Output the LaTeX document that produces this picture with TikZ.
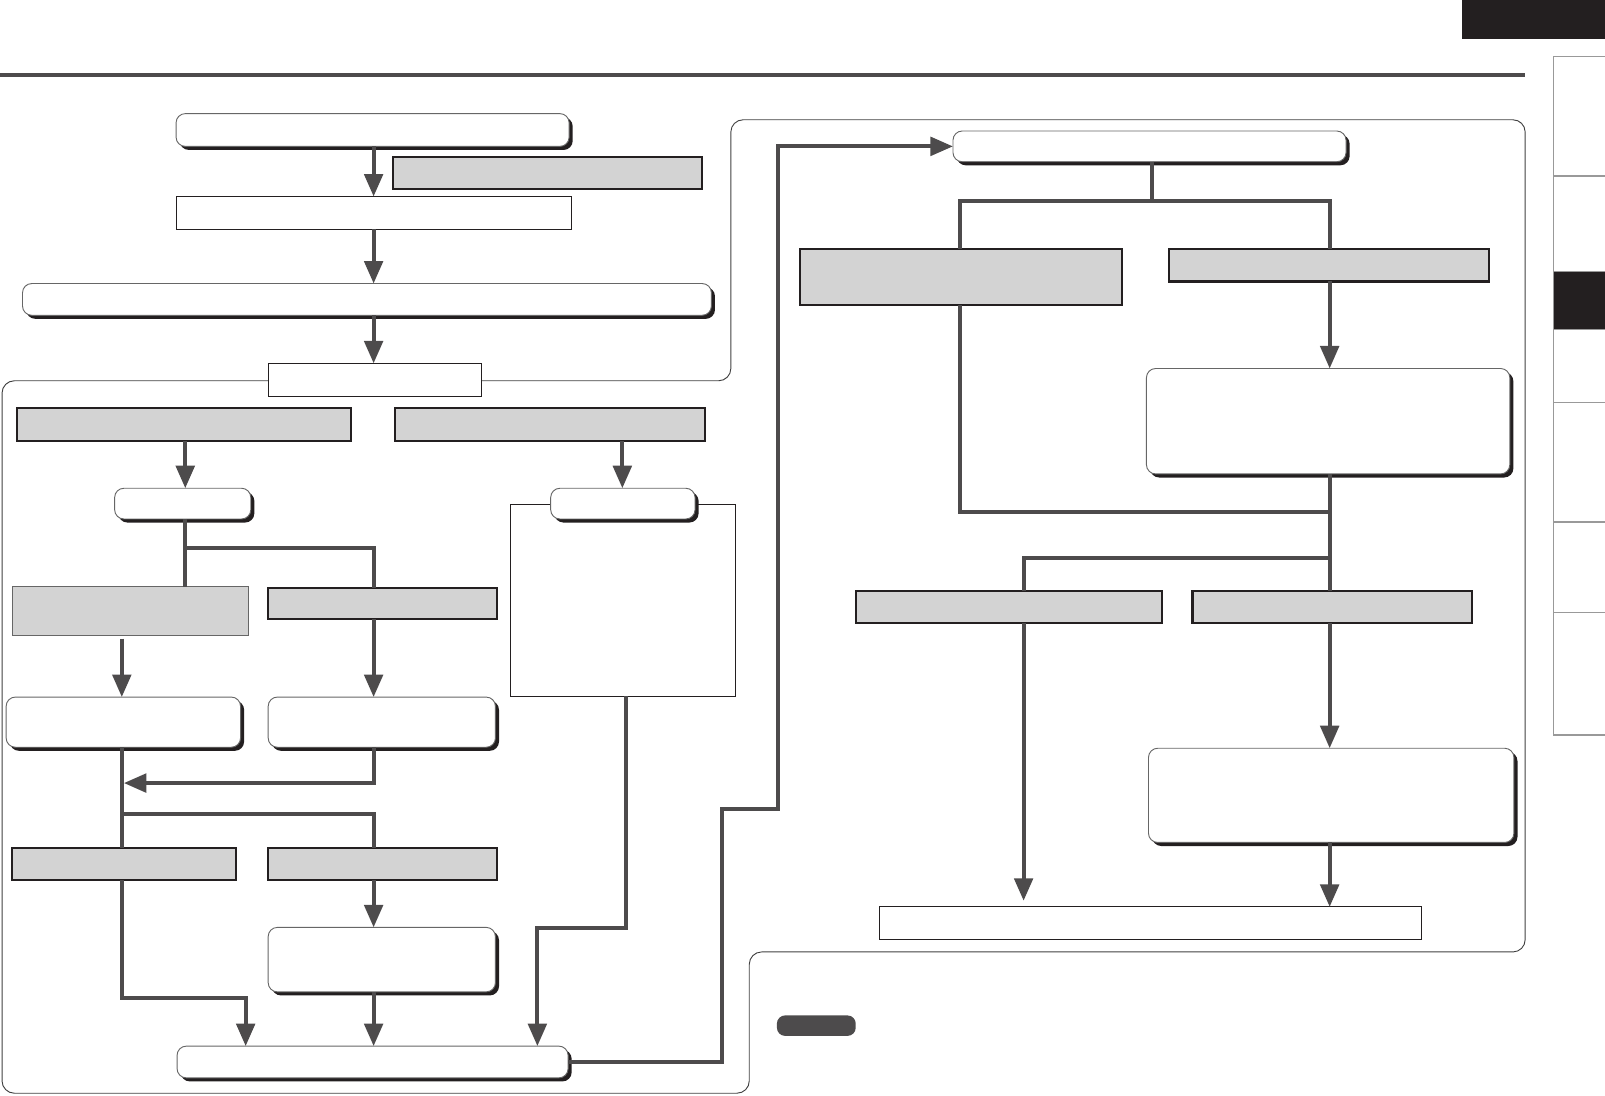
\documentclass[tikz,border=0pt]{standalone}
\usetikzlibrary{arrows.meta,shadows,calc}
\definecolor{ln}{HTML}{4D4B4C}
\definecolor{gfill}{HTML}{D3D3D3}
\definecolor{blk}{HTML}{231F20}
\newcommand\bx[6]{\node[#1,minimum width=#4pt,minimum height=#5pt] (#6) at (#2,#3) {};}
\begin{document}
\begin{tikzpicture}[x=1pt,y=-1pt,
  rbox/.style={draw=black!60, line width=0.9pt, fill=white, rounded corners=9pt, inner sep=0pt, outer sep=0pt,
    general shadow={fill=blk, shadow xshift=3.5pt, shadow yshift=-3.5pt}},
  gbox/.style={draw=blk, line width=2pt, fill=gfill, inner sep=0pt, outer sep=0pt},
  gthin/.style={draw=black!60, line width=0.8pt, fill=gfill, inner sep=0pt, outer sep=0pt},
  pbox/.style={draw=blk, line width=1pt, fill=white, inner sep=0pt, outer sep=0pt},
  conn/.style={draw=ln, line width=4pt},
  arr/.style={conn, -{Triangle[length=22pt,width=18pt]}},
  frame/.style={draw=black!75, line width=0.9pt, rounded corners=12pt}]
\useasboundingbox (0,0) rectangle (1568,1070);
% header
\fill[blk] (1428,0) rectangle (1568,38);
\draw[ln, line width=4pt] (0,73) -- (1490,73);
% side tabs
\fill[blk] (1518,265) rectangle (1568,322);
\draw[black!40, line width=1.2pt] (1568,55) -- (1518,55) -- (1518,718) -- (1568,718);
\foreach \yy in {172,265,322,393,510,598}{\draw[black!40, line width=1.2pt] (1518,\yy) -- (1568,\yy);}
% frame
\draw[frame] (2,372) -- (714,372) -- (714,117) -- (1490,117) -- (1490,930) -- (732,930) -- (732,1068) -- (2,1068) -- cycle;
% column coordinates
\coordinate (xm) at (365,0);
\coordinate (xb) at (181,0);
\coordinate (xc) at (119,0);
\coordinate (xd) at (608,0);
\coordinate (xe) at (612,0);
\coordinate (xf) at (525,0);
\coordinate (xg) at (240,0);
\coordinate (xL) at (1125,0);
\coordinate (x8) at (938,0);
\coordinate (x9) at (1299,0);
\coordinate (x10) at (1000,0);
% tall rectangle behind F
\bx{pbox}{609}{586.5}{220}{187}{T}
% left boxes
\bx{rbox}{364}{127}{384}{32}{A}
\bx{gbox}{535}{169}{302}{32}{G1}
\bx{pbox}{365}{208}{386}{32}{B}
\bx{rbox}{358.5}{292.5}{673}{31}{C}
\bx{pbox}{366}{371}{208}{32}{D}
\bx{gbox}{180}{415}{326}{32}{G2}
\bx{gbox}{537.5}{415}{303}{32}{G3}
\bx{rbox}{178.5}{492}{133}{30}{E}
\bx{rbox}{608.5}{492}{141}{30}{F}
\bx{gthin}{127.5}{597}{231}{48}{G4}
\bx{gbox}{374}{589.5}{224}{31}{G5}
\bx{rbox}{120.5}{705.5}{229}{49}{H}
\bx{rbox}{373}{705.5}{222}{49}{I}
\bx{gbox}{121.5}{844}{219}{32}{G6}
\bx{gbox}{374}{844}{224}{32}{G7}
\bx{rbox}{373}{937.5}{222}{63}{J}
\bx{rbox}{364}{1037.5}{382}{31}{K}
% right boxes
\bx{rbox}{1123}{143}{384}{30}{L}
\bx{gbox}{939}{270.5}{314}{55}{G8}
\bx{gbox}{1298.5}{259}{313}{32}{G9}
\bx{rbox}{1297.5}{411.5}{355}{103}{M}
\bx{gbox}{985.5}{593}{299}{32}{G10}
\bx{gbox}{1301.5}{593}{273}{32}{G11}
\bx{rbox}{1300.5}{777}{357}{92}{O}
\bx{pbox}{1124}{902}{530}{32}{N}
\node[fill=ln, rounded corners=8pt, minimum width=77pt, minimum height=20pt, inner sep=0pt] (P) at (797.5,1002) {};
% connectors left
\draw[arr] (A.south -| xm) -- (B.north -| xm);
\draw[arr] (B.south -| xm) -- (C.north -| xm);
\draw[arr] (C.south -| xm) -- (D.north -| xm);
\draw[arr] (G2.south -| xb) -- (E.north -| xb);
\draw[arr] (G3.south -| xd) -- (F.north -| xd);
\draw[conn] (E.south -| xb) -- (G4.north -| xb);
\draw[conn] (181,535) -| (G5.north -| xm);
\draw[arr] ([yshift=-3pt]G4.south -| xc) -- (H.north -| xc);
\draw[arr] (G5.south -| xm) -- (I.north -| xm);
\draw[arr] (I.south -| xm) |- (121,765);
\draw[conn] (H.south -| xc) -- (G6.north -| xc);
\draw[conn] (119,795) -| (G7.north -| xm);
\draw[arr] (G7.south -| xm) -- (J.north -| xm);
\draw[arr] (G6.south -| xc) -- (119,975) -- (240,975) -- (K.north -| xg);
\draw[arr] (J.south -| xm) -- (K.north -| xm);
\draw[arr] (T.south -| xe) -- (612,907) -- (525,907) -- (K.north -| xf);
\draw[arr] (K.east) -- (705,1037.5) -- (705,790) -- (760,790) -- (760,143) -- (L.west);
% connectors right
\draw[conn] (L.south -| xL) -- (1125,196);
\draw[conn] (G8.north -| x8) |- (1299,196) -- (G9.north -| x9);
\draw[arr] (G9.south -| x9) -- (M.north -| x9);
\draw[conn] (G8.south -| x8) |- (1301,500);
\draw[conn] (M.south -| x9) -- (G11.north -| x9);
\draw[conn] (1299,545) -| (G10.north -| x10);
\draw[arr] (G10.south -| x10) -- ([yshift=6pt]N.north -| x10);
\draw[arr] (G11.south -| x9) -- (O.north -| x9);
\draw[arr] (O.south -| x9) -- (N.north -| x9);
\end{tikzpicture}
\end{document}
